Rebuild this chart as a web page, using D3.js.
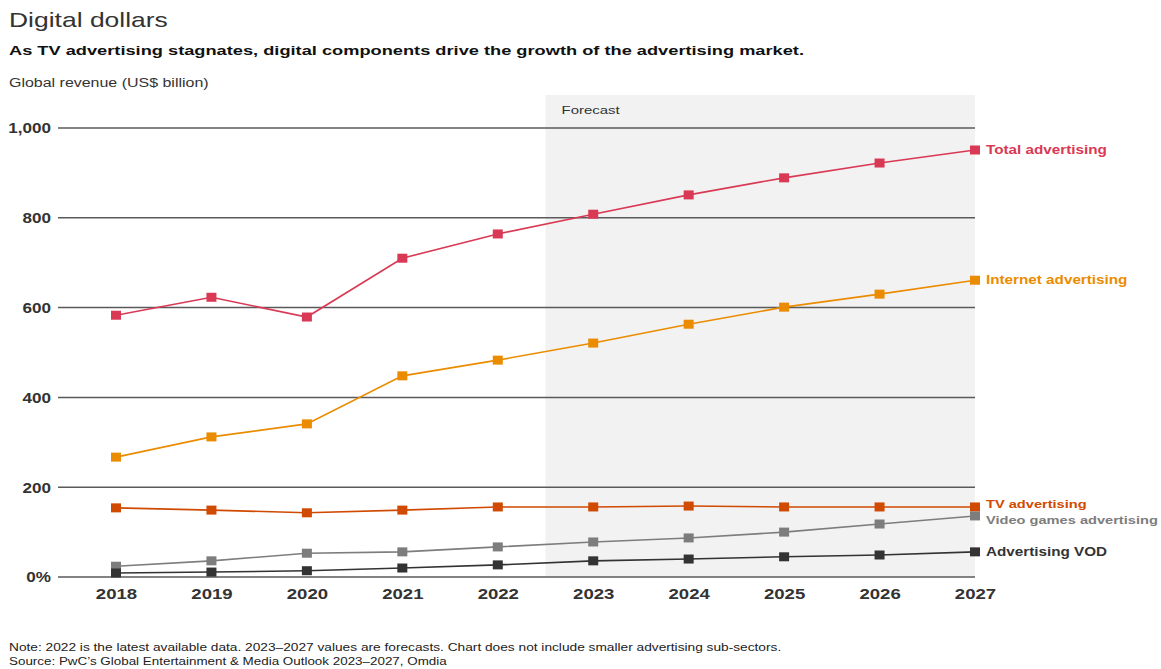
<!DOCTYPE html>
<html><head><meta charset="utf-8">
<script src="https://cdn.jsdelivr.net/npm/d3@7"></script>
<style>
body{margin:0;background:#fff;font-family:"Liberation Sans",Arial,sans-serif;overflow:hidden;}
svg{display:block;}
</style></head><body>
<svg id="c" width="1161" height="669"></svg>
<script>
const years = [2018,2019,2020,2021,2022,2023,2024,2025,2026,2027];
const totalAdvertising = [583,623,579,710,764,808,851,889,922,951];
const internetAdvertising = [267,312,341,448,483,521,563,601,630,661];
const tvAdvertising = [154,149,143,149,156,156,158,156,156,156];
const videoGamesAdvertising = [24,36,53,56,67,78,87,100,118,136];
const advertisingVOD = [9,11,14,20,27,36,40,45,49,56];
const yTicks = [0,200,400,600,800,1000];
const yTickLabels = ["0%","200","400","600","800","1,000"];
const seriesNames = ["Total advertising","Internet advertising","TV advertising","Video games advertising","Advertising VOD"];
const seriesColors = ["#d93954","#eb8c00","#d04a02","#7d7d7d","#333333"];
const seriesLabelDy = [0,0,-2.5,4,0];

const series = [totalAdvertising, internetAdvertising, tvAdvertising, videoGamesAdvertising, advertisingVOD];

const svg = d3.select("#c");
const x = d3.scalePoint().domain(years).range([116,975]);
const y = d3.scaleLinear().domain([0,1000]).range([577,128]);

function stretch(sel, f){
  sel.each(function(){
    const w = this.getComputedTextLength();
    d3.select(this).attr("textLength", w*f).attr("lengthAdjust","spacingAndGlyphs");
  });
  return sel;
}

// forecast shading
const fx0 = (x(2022)+x(2023))/2;
svg.append("rect").attr("x",fx0).attr("y",95).attr("width",x(2027)-fx0).attr("height",y(0)-95).attr("fill","#f2f2f2");
stretch(svg.append("text").attr("x",fx0+16).attr("y",114).attr("font-size",11.5).attr("fill","#333").text("Forecast"),1.3);

// gridlines
svg.append("g").selectAll("line").data(yTicks).join("line")
  .attr("x1",58).attr("x2",x(2027)).attr("y1",d=>y(d)).attr("y2",d=>y(d))
  .attr("stroke","#5a5a5a").attr("stroke-width",1.5);

// y axis labels
const yAxis = d3.axisLeft(y).tickValues(yTicks).tickFormat((d,i)=>yTickLabels[i]).tickSize(0).tickPadding(0);
const gy = svg.append("g").attr("transform","translate(51,0)").call(yAxis);
gy.select(".domain").remove();
stretch(gy.selectAll("text").attr("font-size",14).attr("font-family","Liberation Sans, Arial, sans-serif").attr("fill","#333").attr("font-weight","bold").attr("dy","0.35em"),1.22);

// x axis labels
const xAxis = d3.axisBottom(x).tickSize(0).tickPadding(0);
const gx = svg.append("g").attr("transform","translate(0,589)").call(xAxis);
gx.select(".domain").remove();
stretch(gx.selectAll("text").attr("font-size",14.5).attr("font-family","Liberation Sans, Arial, sans-serif").attr("fill","#333").attr("font-weight","bold"),1.28);

// lines
const line = d3.line().x((d,i)=>x(years[i])).y(d=>y(d));
series.forEach((s,k)=>{
  const g = svg.append("g");
  g.append("path").datum(s).attr("d",line).attr("fill","none").attr("stroke",seriesColors[k]).attr("stroke-width",1.6);
  g.selectAll("rect").data(s).join("rect")
    .attr("x",(d,i)=>x(years[i])-5).attr("y",d=>y(d)-4.5).attr("width",10).attr("height",9)
    .attr("fill",seriesColors[k]);
  stretch(g.append("text").attr("x",x(2027)+11).attr("y",y(s[s.length-1])+seriesLabelDy[k]).attr("dy","0.35em")
    .attr("font-size",k===2||k===3?11.5:12).attr("font-weight","bold").attr("fill",seriesColors[k]).text(seriesNames[k]),1.27);
});

// titles
stretch(svg.append("text").attr("x",9).attr("y",27).attr("font-size",21).attr("fill","#333").text("Digital dollars"),1.26);
stretch(svg.append("text").attr("x",9).attr("y",55).attr("font-size",13.5).attr("font-weight","bold").attr("fill","#111")
  .text("As TV advertising stagnates, digital components drive the growth of the advertising market."),1.35);
stretch(svg.append("text").attr("x",9).attr("y",87).attr("font-size",12).attr("fill","#333").text("Global revenue (US$ billion)"),1.33);

stretch(svg.append("text").attr("x",9).attr("y",651).attr("font-size",10).attr("fill","#222")
  .text("Note: 2022 is the latest available data. 2023–2027 values are forecasts. Chart does not include smaller advertising sub-sectors."),1.37);
stretch(svg.append("text").attr("x",9).attr("y",665).attr("font-size",10).attr("fill","#222")
  .text("Source: PwC’s Global Entertainment & Media Outlook 2023–2027, Omdia"),1.34);
</script>
</body></html>
